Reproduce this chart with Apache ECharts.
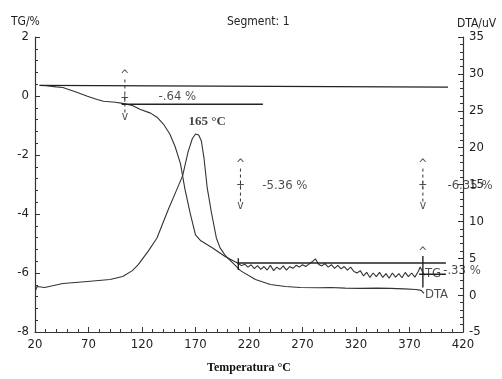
<!DOCTYPE html>
<html><head><meta charset="utf-8">
<script src="https://cdn.jsdelivr.net/npm/echarts@6/dist/echarts.min.js"></script>
<style>html,body{margin:0;padding:0;background:#fff}#c{width:502px;height:379px}</style>
</head><body><div id="c"></div>
<script>
// ---- data (temperature °C, TG %, DTA uV) ----
const tgCurve = [[24,0.36],[30,0.35],[40,0.31],[46,0.29],[57,0.15],[69,-0.01],[78,-0.12],[84,-0.18],[95,-0.21],[102,-0.25],[111,-0.32],[118,-0.45],[128,-0.58],[134,-0.72],[140,-0.95],[146,-1.29],[151,-1.72],[156,-2.30],[160,-3.13],[165,-3.97],[170,-4.71],[175,-4.91],[186,-5.15],[198,-5.45],[207,-5.62]];
const tgTail = [[210,-5.68],[213,-5.75],[216,-5.70],[219,-5.80],[222,-5.72],[225,-5.85],[228,-5.75],[231,-5.88],[234,-5.78],[237,-5.90],[240,-5.74],[243,-5.92],[246,-5.80],[249,-5.88],[252,-5.76],[255,-5.90],[258,-5.78],[261,-5.84],[264,-5.74],[267,-5.80],[270,-5.72],[273,-5.78],[276,-5.70],[279,-5.62],[282,-5.52],[285,-5.70],[288,-5.76],[291,-5.68],[294,-5.80],[297,-5.72],[300,-5.84],[303,-5.74],[306,-5.86],[309,-5.78],[312,-5.90],[315,-5.80],[318,-5.95],[321,-6.00],[324,-5.92],[327,-6.10],[330,-5.98],[333,-6.15],[336,-6.00],[339,-6.12],[342,-5.98],[345,-6.15],[348,-6.02],[351,-6.18],[354,-6.00],[357,-6.14],[360,-6.02],[363,-6.16],[366,-5.98],[369,-6.12],[372,-6.00],[375,-6.14],[378,-5.96],[380,-5.80],[382,-5.95],[384,-6.08]];
const dtaCurve = [[20.5,0.64],[22,1.17],[29,1.04],[46,1.58],[69,1.85],[90,2.11],[102,2.52],[111,3.32],[116.5,4.13],[126,6.0],[134,7.75],[144,11.4],[151,13.8],[158,16.2],[163,19.4],[167,21.2],[170,21.85],[173,21.7],[175.5,20.9],[178,18.5],[181,14.5],[185,11.1],[189.5,7.75],[193,6.41],[198,5.34],[205.5,4.26],[212,3.32],[226,2.11],[240,1.44],[254,1.17],[268,1.04],[285,1.0],[296,1.04],[310,0.95],[324,0.91],[340,0.95],[352,0.91],[365,0.85],[376,0.77],[381,0.64],[383.5,0.23]];
// step reference lines (TG scale)
const refLines = [
  [[25,0.36],[406,0.30]],
  [[101,-0.28],[233,-0.28]],
  [[209,-5.66],[404,-5.66]],
  [[379,-6.04],[404,-6.04]],
  [[210,-5.50],[210,-5.90]],
  [[382.5,-5.42],[382.5,-6.49]]
];
// step evaluation markers: [temperature, top, middle, bottom]
const stepMarkers = [[104,0.69,-0.11,-0.72],[212,-2.33,-3.03,-3.74],[382.5,-2.33,-3.03,-3.74]];
const thirdMarkerTop = [[382.5,-5.32]];
// text notes: [temperature, TG value, text]
const notes = [[135,-0.02,'-.64 %'],[232,-3.03,'-5.36 %'],[405,-3.03,'-6.35 %'],[401,-5.92,'-.33 %'],[384,-6.03,'TG'],[384,-6.72,'DTA']];
const peakNote = [[181,-0.88,'165 °C']];
const xTickLabels = [20,70,120,170,220,270,320,370,420];
const tgTickLabels = [-8,-6,-4,-2,0,2];
const dtaTickLabels = [-5,0,5,10,15,20,25,30,35];

const FONT = "'DejaVu Sans Condensed','DejaVu Sans',sans-serif";
const INK = '#333';
const chart = echarts.init(document.getElementById('c'), null, {renderer:'canvas'});

const series = [];
series.push({type:'line', name:'TG', data: tgCurve.concat(tgTail), yAxisIndex:0, showSymbol:false, smooth:false,
  lineStyle:{color:INK, width:1.1}, z:3, silent:true});
series.push({type:'line', name:'DTA', data: dtaCurve, yAxisIndex:1, showSymbol:false, smooth:false,
  lineStyle:{color:INK, width:1.1}, z:3, silent:true});
refLines.forEach(seg => series.push({type:'line', data: seg, yAxisIndex:0, showSymbol:false,
  lineStyle:{color:'#222', width:1.4}, silent:true}));
stepMarkers.forEach(m => {
  series.push({type:'line', data:[[m[0], m[1]-0.13],[m[0], m[3]+0.13]], yAxisIndex:0, showSymbol:false,
    lineStyle:{color:INK, width:1, type:[3,3]}, silent:true});
  series.push({type:'scatter', yAxisIndex:0, symbol:'rect', symbolSize:1, itemStyle:{color:'rgba(0,0,0,0)'}, silent:true,
    data:[{value:[m[0],m[1]], name:'^'},{value:[m[0],m[2]], name:'+'},{value:[m[0],m[3]], name:'v'}],
    label:{show:true, position:'inside', formatter:'{b}', color:'#222', fontFamily:FONT, fontSize:12}});
});
series.push({type:'scatter', yAxisIndex:0, symbol:'rect', symbolSize:1, itemStyle:{color:'rgba(0,0,0,0)'}, silent:true,
  data: thirdMarkerTop.map(p => ({value:p, name:'^'})),
  label:{show:true, position:'inside', formatter:'{b}', color:'#222', fontFamily:FONT, fontSize:12}});
series.push({type:'scatter', yAxisIndex:0, symbol:'rect', symbolSize:1, itemStyle:{color:'rgba(0,0,0,0)'}, silent:true,
  data: notes.map(n => ({value:[n[0],n[1]], name:n[2]})),
  label:{show:true, position:'right', distance:0, formatter:'{b}', color:'#222', fontFamily:FONT, fontSize:13}});
series.push({type:'scatter', yAxisIndex:0, symbol:'rect', symbolSize:1, itemStyle:{color:'rgba(0,0,0,0)'}, silent:true,
  data: peakNote.map(n => ({value:[n[0],n[1]], name:n[2]})),
  label:{show:true, position:'inside', formatter:'{b}', color:'#111', fontFamily:"'Liberation Serif','DejaVu Serif',serif", fontWeight:'bold', fontSize:13}});

function axisBase() {
  return {
    axisLine:{show:true, onZero:false, lineStyle:{color:INK, width:1.2}},
    axisTick:{show:true, inside:true, length:5, lineStyle:{color:INK}},
    minorTick:{show:true, splitNumber:5, length:3, lineStyle:{color:INK}},
    splitLine:{show:false}, minorSplitLine:{show:false}
  };
}
const labelBase = {color:'#222', fontFamily:FONT, fontSize:13, margin:6};

chart.setOption({
  animation:false,
  backgroundColor:'#fff',
  title:[
    {text:'Segment: 1', left:222, top:11, textStyle:{fontFamily:FONT, fontSize:12, fontWeight:'normal', color:'#222'}},
    {text:'TG/%', left:6, top:11, textStyle:{fontFamily:FONT, fontSize:12, fontWeight:'normal', color:'#222'}},
    {text:'DTA/uV', left:452, top:13, textStyle:{fontFamily:FONT, fontSize:12, fontWeight:'normal', color:'#222'}}
  ],
  grid:{left:35, right:39, top:37, bottom:44, containLabel:false},
  xAxis:Object.assign(axisBase(), {type:'value', min:20, max:420, interval:50,
    name:'Temperatura °C', nameLocation:'middle', nameGap:30,
    nameTextStyle:{fontFamily:"'Liberation Serif','DejaVu Serif',serif", fontWeight:'bold', fontSize:12, color:'#111'},
    axisLabel:Object.assign({}, labelBase, {formatter: v => xTickLabels.includes(v) ? String(v) : ''})}),
  yAxis:[
    Object.assign(axisBase(), {type:'value', min:-8, max:2, interval:2, position:'left',
      axisLabel:Object.assign({}, labelBase, {formatter: v => tgTickLabels.includes(v) ? String(v) : ''})}),
    Object.assign(axisBase(), {type:'value', min:-5, max:35, interval:5, position:'right',
      axisLabel:Object.assign({}, labelBase, {formatter: v => dtaTickLabels.includes(v) ? String(v) : ''})})
  ],
  series: series
});
</script>
</body></html>
